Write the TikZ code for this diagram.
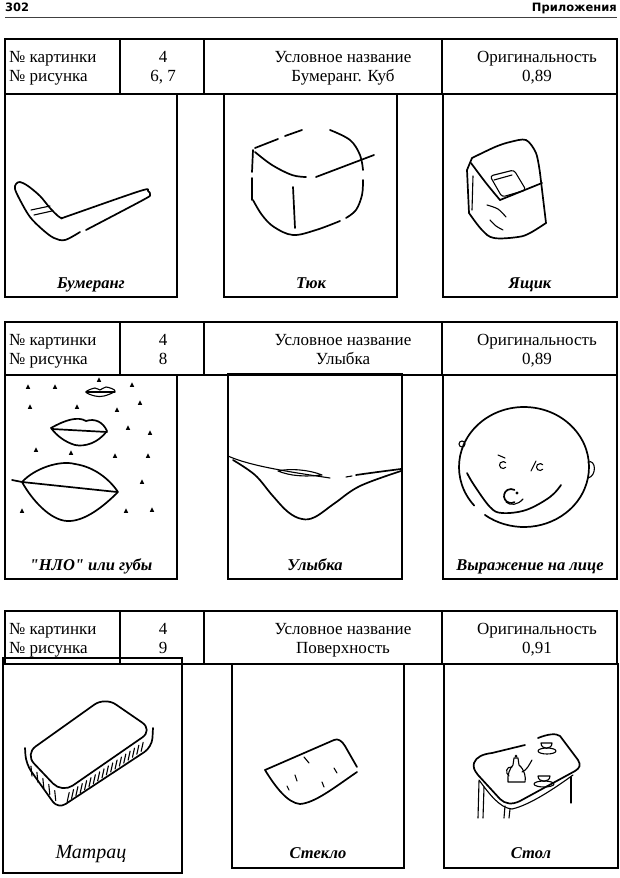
\documentclass[tikz,border=0pt]{standalone}
\usepackage{fontspec}
\setmainfont{Liberation Serif}
\newfontfamily\hdrfont{DejaVu Sans}
\newfontfamily\scrfont{Liberation Serif}
\usetikzlibrary{calc}
\newcommand\mytab[6]{%
  \draw[frame] (5,#2) rectangle (617,{#2+#6});
  \foreach \xx in {120,204,442} \draw[frame] (\xx,#2) -- (\xx,{#2+#6});
  \node[cell, anchor=base west] (#1a) at (9,{#2+23}) {№ картинки};
  \node[cell, anchor=base west] (#1b) at (9,{#2+42}) {№ рисунка};
  \node[cell] (#1c) at (163,{#2+23}) {4};
  \node[cell] (#1d) at (163,{#2+42}) {#3};
  \node[cell] (#1e) at (343,{#2+23}) {Условное название};
  \node[cell] (#1f) at (343,{#2+42}) {#4};
  \node[cell] (#1g) at (537,{#2+23}) {Оригинальность};
  \node[cell] (#1h) at (537,{#2+42}) {#5};
}
\begin{document}
\begin{tikzpicture}[x=1pt,y=-1pt,
  frame/.style={line width=1.6pt, line cap=rect},
  pen/.style={line width=1.7pt, line cap=round, line join=round},
  fine/.style={line width=1.1pt, line cap=round, line join=round},
  cell/.style={font=\fontsize{17}{19}\selectfont, anchor=base, inner sep=0pt},
  caplabel/.style={font=\scrfont\bfseries\itshape\fontsize{16.5}{18}\selectfont, anchor=base, inner sep=0pt},
]
\useasboundingbox (0,0) rectangle (620,878);
\fill[white] (0,0) rectangle (620,878);

% page header
\node[anchor=base west, inner sep=0pt, font=\hdrfont\bfseries\fontsize{11.5}{13}\selectfont] (pg) at (5,12) {302};
\node[anchor=base east, inner sep=0pt, font=\hdrfont\bfseries\fontsize{11.5}{13}\selectfont] (sec) at (617,12) {Приложения};
\draw[line width=0.8pt, black!75] (5,17) -- (617,17);

% ---------- table 1 ----------
\mytab{ta}{39}{6, 7}{Бумеранг. Куб}{0,89}{55}
\draw[frame] (5,94) rectangle (177,297);
\draw[frame] (224,94) rectangle (397,297);
\draw[frame] (443,94) rectangle (617,297);
\node[caplabel] (la1) at (91,288) {Бумеранг};
\node[caplabel] (la2) at (311,288) {Тюк};
\node[caplabel] (la3) at (530,288) {Ящик};

% boomerang
\draw[pen] plot[smooth, tension=0.55] coordinates {(80,232) (65,240) (54,238) (43,230) (30,217) (20,200) (15,189) (16,184) (20,182) (28,186) (40,196) (50,208) (58,216) (62,218) (68,216) (140,191) (148,191) (150,195) (143,200) (86,230)};
\draw[fine] (31,210) -- (50,206);
\draw[fine] (34,215) -- (52,211);

% bale
\draw[pen] (255,148) -- (278,139);
\draw[pen] (285,136) -- (302,130);
\draw[pen] plot[smooth, tension=0.6] coordinates {(330,130) (350,140) (360,155) (363,170)};
\draw[pen] plot[smooth, tension=0.6] coordinates {(363,180) (362,195) (356,210) (346,218)};
\draw[pen] plot[smooth, tension=0.6] coordinates {(253,200) (262,215) (274,227) (293,235) (316,230) (340,221)};
\draw[pen] (253,150) -- (252,172);
\draw[pen] (252,178) -- (252,200);
\draw[pen] plot[smooth, tension=0.6] coordinates {(255,152) (272,165) (292,175) (306,177)};
\draw[pen] (316,177) -- (374,155);
\draw[pen] (293,187) -- (295,228);

% box / bag
\draw[pen] plot[smooth, tension=0.5] coordinates {(472,158) (495,147) (510,142) (526,140) (536,153) (540,173)};
\draw[pen] (540,173) -- (546,223);
\draw[pen] plot[smooth, tension=0.6] coordinates {(546,223) (530,233) (518,237) (494,238) (482,230) (469,213)};
\draw[pen] (469,213) -- (467,170) -- (472,158);
\draw[fine] (473,176) -- (472,210);
\draw[pen] plot[smooth, tension=0.6] coordinates {(471,163) (486,183) (500,200)};
\draw[pen] (500,200) -- (542,183);
\draw[fine, rounded corners=3pt] (490,176) -- (514,170) -- (526,190) -- (502,197) -- cycle;
\draw[fine] (494,180) -- (512,175);
\draw[fine] plot[smooth] coordinates {(487,205) (498,209) (506,217)};
\draw[fine] plot[smooth] coordinates {(490,220) (496,226) (503,230)};

% ---------- table 2 ----------
\mytab{tb}{322}{8}{Улыбка}{0,89}{53}
\draw[frame] (5,375) rectangle (177,579);
\draw[frame] (228,374) rectangle (402,579);
\draw[frame] (443,375) rectangle (617,579);
\node[caplabel] (lb1) at (91,570) {"НЛО" или губы};
\node[caplabel] (lb2) at (315,570) {Улыбка};
\node[caplabel] (lb3) at (530,570) {Выражение на лице};

% lips
\draw[fine] plot[smooth cycle, tension=0.6] coordinates {(86,392) (95,388) (100,390) (106,387) (115,391) (104,396) (95,396)};
\draw[fine] (86,392) -- (115,392);
\draw[pen] (51,428) .. controls (65,420) and (78,416) .. (86,421) .. controls (95,418) and (103,422) .. (107,431) .. controls (98,443) and (85,447) .. (75,445) .. controls (65,442) and (57,436) .. (51,428) -- cycle;
\draw[pen] (52,429) -- (107,432);
\draw[pen] (12,480) -- (22,482) .. controls (35,468) and (60,460) .. (75,464) .. controls (95,467) and (110,480) .. (118,492) .. controls (105,505) and (85,522) .. (67,521) .. controls (50,520) and (32,500) .. (22,482) -- (117,492);
\foreach \p in {(28,387),(55,387),(99,380),(132,385),(30,407),(77,407),(117,410),(140,403),(128,428),(150,433),(36,450),(71,453),(115,456),(148,456),(142,482),(22,511),(126,511),(152,510)}
  \fill \p ++(-2.2,1.8) -- ++(2.2,-4.4) -- ++(2.2,4.4) -- cycle;

% smile
\draw[fine] (228,456) .. controls (250,466) and (290,472) .. (330,478);
\draw[fine] (278,471) .. controls (290,468) and (310,470) .. (322,475) .. controls (305,477) and (290,476) .. (278,471);
\draw[fine] (346,477) -- (352,476);
\draw[pen] (356,475) .. controls (370,473) and (385,471) .. (401,469);
\draw[pen] plot[smooth, tension=0.6] coordinates {(233,460) (255,475) (272,495) (288,512) (302,519) (315,517) (335,503) (360,486) (401,471)};

% face
\draw[pen] (524,467) ++(140:65 and 60) arc[start angle=140, end angle=487, x radius=65, y radius=60];
\draw[fine] (462,444) circle (3);
\draw[fine] (588,462) .. controls (596,459) and (597,476) .. (588,478);
\draw[fine] (503,465) ++(40:3.5) arc[start angle=40, end angle=320, radius=3.5];
\draw[fine] (498,455) -- (505,458);
\draw[fine] (531,471) -- (536,461);
\draw[fine] (540,467) ++(40:3.5) arc[start angle=40, end angle=320, radius=3.5];
\draw[pen] (511,496) ++(60:7) arc[start angle=60, end angle=300, radius=7];
\fill (517,493) circle (1.6);
\draw[fine] (506,502) .. controls (510,506) and (518,505) .. (523,499);
\draw[pen] plot[smooth, tension=0.6] coordinates {(467,473) (474,485) (490,507) (502,513) (526,510) (550,497) (561,485)};

% ---------- table 3 ----------
\mytab{tc}{611}{9}{Поверхность}{0,91}{53}
\draw[frame] (3,658) rectangle (182,873);
\draw[frame] (232,664) rectangle (404,868);
\draw[frame] (444,664) rectangle (618,868);
\node[anchor=base, inner sep=0pt, font=\scrfont\itshape\fontsize{20}{22}\selectfont] (lc1) at (91,858) {Матрац};
\node[caplabel] (lc2) at (318,858) {Стекло};
\node[caplabel] (lc3) at (531,858) {Стол};

% mattress
\draw[pen, rounded corners=13pt] (25,754) -- (105,697) -- (153,730) -- (62,793) -- cycle;
\draw[pen, rounded corners=9pt] (25,748) -- (26,764) -- (58,809) -- (152,747) -- (153,728);
\foreach \t in {0.06,0.11,...,0.96}
  \draw[fine] ($(64,794)!\t!(151,735)$) ++(0,2) -- ++(-2,9);
\foreach \t in {0.12,0.3,0.48,0.66,0.84}
  \draw[fine] ($(27,760)!\t!(60,794)$) ++(0,2) -- ++(1,10);

% glass
\draw[pen] (357,772) .. controls (335,787) and (315,803) .. (300,804) .. controls (288,803) and (276,788) .. (265,770) -- (334,740) .. controls (338,738) and (342,741) .. (345,746) -- (357,767);
\foreach \a/\b in {{(304,757)}/{(309,763)}, {(334,768)}/{(337,773)}, {(295,775)}/{(297,781)}, {(322,782)}/{(324,787)}, {(287,786)}/{(289,790)}}
  \draw[fine] \a -- \b;

% table with coffee set
\draw[pen] (474,763) .. controls (476,757) and (483,754) .. (492,753) -- (525,745);
\draw[pen] (538,738) .. controls (548,734) and (556,733) .. (560,736) -- (578,760) .. controls (581,765) and (580,768) .. (575,771) -- (520,801) .. controls (512,805) and (505,804) .. (500,799) -- (478,775) .. controls (474,770) and (473,767) .. (474,763);
\draw[fine] (479,780) .. controls (490,795) and (500,808) .. (512,809) .. controls (530,805) and (555,788) .. (573,775);
\draw[fine] (479,781) -- (478,818);
\draw[fine] (484,787) -- (483,818);
\draw[fine] (505,806) -- (504,818);
\draw[fine] (510,809) -- (509,818);
\draw[fine] (571,777) -- (571,803);
\draw[fine] (514,758) -- (518,758) -- (519,765) .. controls (525,770) and (526,778) .. (525,782) -- (508,782) .. controls (507,775) and (510,768) .. (513,765) -- cycle;
\draw[fine] (522,772) .. controls (527,770) and (529,765) .. (532,760);
\draw[fine] (512,767) .. controls (506,766) and (505,773) .. (509,776);
\fill (516,756) circle (1.5);
\draw[fine] (547,751) ellipse (9 and 3);
\draw[fine] (541,743) .. controls (541,750) and (552,750) .. (552,743) -- cycle;
\draw[fine] (544,784) ellipse (10 and 3);
\draw[fine] (538,776) .. controls (538,783) and (550,783) .. (550,776) -- cycle;
\end{tikzpicture}
\end{document}
